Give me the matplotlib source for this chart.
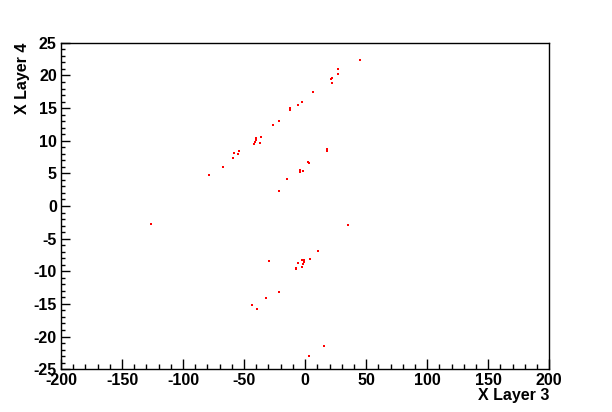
import numpy as np
import matplotlib
matplotlib.use("Agg")
import matplotlib.pyplot as plt
from matplotlib.ticker import MultipleLocator

# Puntos (X Layer 3, X Layer 4)
x_layer3 = [45.1, 27.0, 27.0, 22.1, 21.3, 22.1, 6.6, -2.5, -5.7, -12.3, -12.3,
            -21.3, -26.2, -36.1, -40.2, -40.2, -41.0, -41.8, -36.9, -54.1, -58.2,
            -54.9, -59.0, -67.2, -78.7, 18.0, 18.0, 2.5, 3.3, -4.1, -4.1, -1.6,
            -14.8, -21.3, -126.2, 35.2, 10.7, -29.5, 4.1, -2.5, -0.8, -0.8, -1.6,
            -5.7, -2.5, -7.4, -7.4, -21.3, -32.0, -43.4, -39.3, 15.6, 3.3]
x_layer4 = [22.4, 21.0, 20.2, 19.6, 19.5, 18.9, 17.5, 16.0, 15.5, 15.0, 14.7,
            13.0, 12.4, 10.6, 10.4, 10.1, 9.8, 9.5, 9.7, 8.4, 8.1,
            8.0, 7.4, 6.0, 4.8, 8.7, 8.4, 6.7, 6.6, 5.5, 5.2, 5.4,
            4.1, 2.3, -2.8, -2.9, -6.9, -8.4, -8.1, -8.3, -8.3, -8.6, -8.9,
            -8.7, -9.4, -9.5, -9.7, -13.2, -14.1, -15.2, -15.8, -21.5, -23.0]

plt.rcParams['font.family'] = ['Liberation Sans', 'DejaVu Sans']
plt.rcParams['axes.unicode_minus'] = False

fig = plt.figure(figsize=(6.12, 4.12), dpi=100)
ax = fig.add_axes([0.0997, 0.104, 0.7977, 0.792])

ax.plot(x_layer3, x_layer4, linestyle='none', marker='s', markersize=1.8,
        markeredgewidth=0, color='red')

ax.set_xlim(-200, 200)
ax.set_ylim(-25, 25)
ax.xaxis.set_major_locator(MultipleLocator(50))
ax.xaxis.set_minor_locator(MultipleLocator(10))
ax.yaxis.set_major_locator(MultipleLocator(5))
ax.yaxis.set_minor_locator(MultipleLocator(1))
ax.tick_params(which='both', direction='in', top=False, right=False,
               labelsize=11.5, width=1, color='black')
ax.tick_params(axis='x', which='major', length=7.2, pad=3)
ax.tick_params(axis='x', which='minor', length=3.6)
ax.tick_params(axis='y', which='major', length=6.5, pad=3)
ax.tick_params(axis='y', which='minor', length=3.2)
for lab in ax.get_xticklabels() + ax.get_yticklabels():
    lab.set_fontweight('bold')
for s in ax.spines.values():
    s.set_linewidth(1)

fig.text(0.897, 0.04, "X Layer 3", ha='right', va='center',
         fontsize=11.5, fontweight='bold')
fig.text(0.036, 0.896, "X Layer 4", ha='center', va='top', rotation=90,
         fontsize=11.5, fontweight='bold')

fig.savefig("out.png", dpi=100)
